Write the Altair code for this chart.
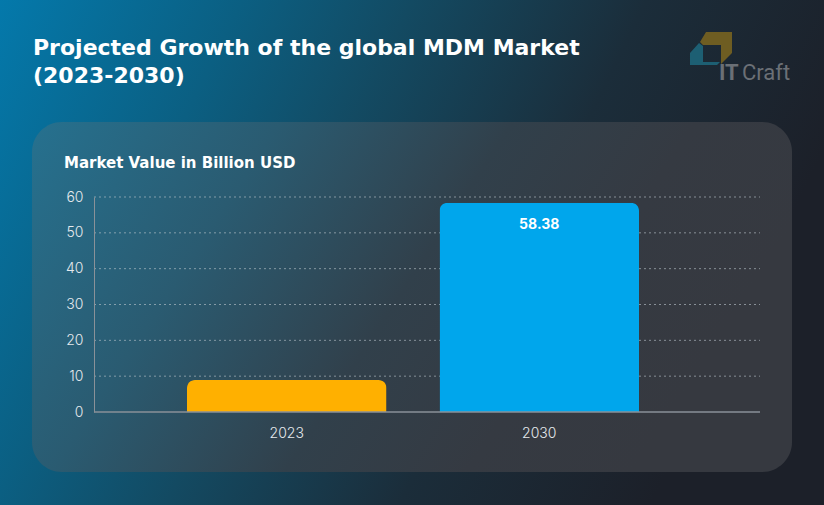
import altair as alt
import pandas as pd

# ---- data ----
years = ["2023", "2030"]
values = [8.9, 58.38]
bar_colors = ["#FFB000", "#00A6EC"]
bar_labels = ["", "58.38"]
y_ticks = [0, 10, 20, 30, 40, 50, 60]

title_lines = ["Projected Growth of the global MDM Market", "(2023-2030)"]
subtitle = "Market Value in Billion USD"

df = pd.DataFrame({"year": years, "value": values, "color": bar_colors, "label": bar_labels})
grid_df = pd.DataFrame({"value": y_ticks[1:]})
one = pd.DataFrame({"a": [0]})

# layout (plot area placed with padding)
PL, PT, W, H = 94, 197, 666, 215
TOTAL_W, TOTAL_H = 824, 505


def ax(px):
    return px - PL


def ay(py):
    return py - PT


FONT = "Inter"
TFONT = "DejaVu Sans"

bg = alt.Chart(one).mark_rect(
    color=alt.LinearGradient(
        gradient="linear",
        stops=[
            alt.GradientStop(color="#0479ab", offset=0),
            alt.GradientStop(color="#0b5f82", offset=0.27),
            alt.GradientStop(color="#134a62", offset=0.46),
            alt.GradientStop(color="#1b2d3a", offset=0.72),
            alt.GradientStop(color="#1c2029", offset=1),
        ],
        x1=0, y1=0, x2=1, y2=0.3,
    )
).encode(x=alt.value(ax(0)), x2=alt.value(ax(TOTAL_W)), y=alt.value(ay(0)), y2=alt.value(ay(TOTAL_H)))

panel = alt.Chart(one).mark_rect(
    cornerRadius=30,
    color=alt.LinearGradient(
        gradient="linear",
        stops=[
            alt.GradientStop(color="#26718f", offset=0),
            alt.GradientStop(color="#2a5b71", offset=0.3),
            alt.GradientStop(color="#31404b", offset=0.58),
            alt.GradientStop(color="#353a42", offset=0.8),
            alt.GradientStop(color="#363940", offset=1),
        ],
        x1=0, y1=0, x2=1, y2=0.3,
    ),
).encode(x=alt.value(ax(32)), x2=alt.value(ax(792)), y=alt.value(ay(122)), y2=alt.value(ay(472)))


def txt(text, x, y, size, weight="bold", color="white", font=FONT, align="left"):
    return alt.Chart(one).mark_text(
        align=align, baseline="alphabetic", font=font, fontSize=size,
        fontWeight=weight, color=color,
    ).encode(x=alt.value(ax(x)), y=alt.value(ay(y)), text=alt.value(text))


t1 = txt(title_lines[0], 33, 55, 22, font=TFONT)
t2 = txt(title_lines[1], 33, 83, 22, font=TFONT)
st = txt(subtitle, 64, 168, 15, font=TFONT)

gold_path = "M706,32L732,32L732,53L721,64L721,45L703,45L700,42Z"
teal_path = "M699,43L703,46L703,62L720,62L717,65L690,65L690,53Z"
logo_gold = alt.Chart(one).mark_point(
    shape=gold_path, size=4, filled=True, opacity=1, color="#6e5d22", strokeWidth=0
).encode(x=alt.value(ax(0)), y=alt.value(ay(0)))
logo_teal = alt.Chart(one).mark_point(
    shape=teal_path, size=4, filled=True, opacity=1, color="#1d5f73", strokeWidth=0
).encode(x=alt.value(ax(0)), y=alt.value(ay(0)))
logo_it = txt("IT", 719, 80, 22, weight="bold", color="#6b7076", font="Roboto")
logo_craft = txt("Craft", 742, 80, 22, weight="normal", color="#6b7076", font="Roboto")

y_scale = alt.Scale(domain=[0, 60], nice=False)
y_axis = alt.Axis(
    title=None, values=y_ticks, grid=False, domain=True, domainColor="#8a9198",
    domainWidth=1, ticks=False, labelPadding=11, labelFont=FONT, labelFontSize=14,
    labelFontWeight=300, labelColor="#e6eaee", labelOverlap=False, labelFlush=False,
    zindex=1,
)

grid = alt.Chart(grid_df).mark_rule(
    color="#c0cad1", opacity=0.6, strokeWidth=1, strokeDash=[2, 3]
).encode(y=alt.Y("value:Q", scale=y_scale, axis=y_axis), x=alt.value(0), x2=alt.value(W))

bars = alt.Chart(df).mark_bar(
    cornerRadiusTopLeft=8, cornerRadiusTopRight=8
).encode(
    x=alt.X(
        "year:N",
        sort=years,
        scale=alt.Scale(range=[93, 545], paddingInner=0.21, paddingOuter=0),
        axis=alt.Axis(
            title=None, labelAngle=0, domain=False, ticks=False, grid=False,
            labelPadding=14, labelFont=FONT, labelFontSize=14, labelFontWeight=300,
            labelColor="#e6eaee", zindex=1,
        ),
    ),
    y=alt.Y("value:Q", scale=y_scale, axis=y_axis),
    color=alt.Color("color:N", scale=None),
)

labels = alt.Chart(df).mark_text(
    baseline="top", dy=15, font=FONT, fontSize=14, fontWeight="bold", color="white"
).encode(x=alt.X("year:N", sort=years), y=alt.Y("value:Q", scale=y_scale, axis=y_axis), text="label:N")

baseline = alt.Chart(one).mark_rule(color="#8a9198", strokeWidth=1.5).encode(
    x=alt.value(0), x2=alt.value(W), y=alt.value(H)
)

chart = alt.layer(
    bg, panel, t1, t2, st, logo_gold, logo_teal, logo_it, logo_craft, grid, bars, labels, baseline
).properties(
    width=W, height=H,
    autosize=alt.AutoSizeParams(type="none"),
    padding={"left": PL, "top": PT, "right": TOTAL_W - PL - W, "bottom": TOTAL_H - PT - H},
    background="#1c2029",
).configure_view(stroke=None).configure_axis(labelOverlap=False)

chart.save("out.html", embed_options={"renderer": "svg", "actions": False})
